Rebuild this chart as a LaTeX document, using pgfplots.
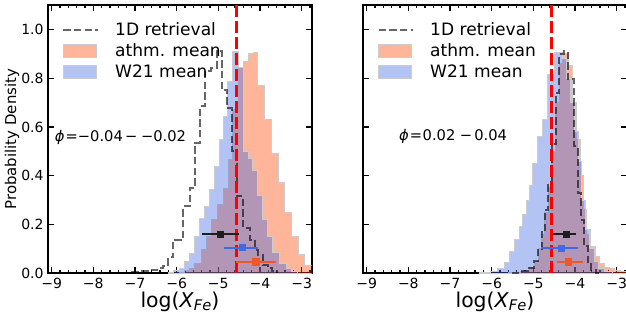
\documentclass[border=0pt]{standalone}
\usepackage{pgfplots}
\pgfplotsset{compat=1.18}
\usepackage{fontspec}
\setmainfont{DejaVu Sans}
\definecolor{myorange}{RGB}{255,69,0}
\definecolor{myblue}{RGB}{65,105,225}
\definecolor{errorange}{RGB}{238,88,40}
\definecolor{errblack}{RGB}{30,30,30}

\tikzset{phinote/.style={anchor=west, inner sep=0pt, font=\fontsize{11}{13}\selectfont}}

\pgfplotsset{
  panel/.style={
    scale only axis, width=197.5pt, height=201.2pt,
    xmin=-9.08, xmax=-2.76, ymin=0, ymax=1.1,
    axis line style={line width=1.6pt},
    every tick/.style={line width=0.9pt, black},
    major tick length=4.5pt, minor tick length=2.5pt,
    tick align=inside,
    xtick={-9,-8,-7,-6,-5,-4,-3},
    xticklabels={−9,−8,−7,−6,−5,−4,−3},
    minor xtick={-8.8,-8.6,-8.4,-8.2,-7.8,-7.6,-7.4,-7.2,-6.8,-6.6,-6.4,-6.2,-5.8,-5.6,-5.4,-5.2,-4.8,-4.6,-4.4,-4.2,-3.8,-3.6,-3.4,-3.2,-2.8},
    ytick={0,0.2,0.4,0.6,0.8,1.0},
    ticklabel style={font=\fontsize{10.5}{12}\selectfont},
    xlabel={log(\textit{X}\raisebox{-0.35ex}{\fontsize{11}{12}\selectfont\textit{Fe}})},
    every axis x label/.style={at={(axis description cs:0.5,-0.105)}, anchor=center, font=\fontsize{15.3}{17}\selectfont},
    legend style={draw=none, fill=none, at={(axis description cs:0.053,0.945)}, anchor=north west,
      font=\fontsize{12.8}{15}\selectfont, row sep=0.6pt, inner sep=0pt,
      /tikz/every odd column/.append style={column sep=10pt}},
    legend cell align=left,
  },
  histfill/.style={const plot, fill opacity=0.4, draw=black!20, line width=0.8pt,
    legend image code/.code={\draw[##1, draw=black!20, line width=0.8pt] (0pt,-4.9pt) rectangle (25pt,4.9pt);}},
  oneD/.style={const plot, black, draw opacity=0.6, line width=1.5pt, dash pattern=on 5.5pt off 2.5pt},
  oneDleg/.style={oneD, legend image code/.code={\draw[##1] (0pt,0pt) -- (26pt,0pt);}},
  redline/.style={red, line width=2.2pt, dash pattern=on 9pt off 3pt, forget plot},
  ebar/.style={forget plot, only marks, mark=square*, mark size=2.3pt, color=#1,
    error bars/.cd, x dir=both, x explicit, error mark=none,
    error bar style={line width=1.4pt, color=#1}},
}

\begin{document}
\begin{tikzpicture}
% ---------------- left panel ----------------
\begin{axis}[panel, at={(36.2pt,38.8pt)}, anchor=south west,
  yticklabels={0.0,0.2,0.4,0.6,0.8,1.0},
  ylabel={Probability Density},
  every axis y label/.style={at={(axis description cs:-0.138,0.5)}, rotate=90, anchor=center, font=\fontsize{11.2}{13}\selectfont}]
\addlegendimage{oneDleg}
\addlegendentry{1D retrieval}
\addplot[histfill, fill=myorange] coordinates {
(-5.92,0.005) (-5.80,0.01) (-5.68,0.02) (-5.56,0.041) (-5.40,0.096) (-5.28,0.15)
(-5.16,0.219) (-5.02,0.281) (-4.88,0.349) (-4.76,0.466) (-4.66,0.67) (-4.52,0.843)
(-4.40,0.87) (-4.28,0.90) (-4.16,0.905) (-4.06,0.77) (-3.88,0.63) (-3.72,0.49)
(-3.56,0.37) (-3.40,0.25) (-3.24,0.15) (-3.08,0.075) (-2.92,0.03) (-2.60,0)} \closedcycle;
\addlegendentry{athm. mean}
\addplot[histfill, fill=myblue] coordinates {
(-6.20,0.004) (-6.08,0.01) (-5.92,0.02) (-5.80,0.048) (-5.68,0.082) (-5.56,0.15)
(-5.44,0.226) (-5.32,0.274) (-5.20,0.342) (-5.08,0.438) (-4.96,0.55) (-4.88,0.644)
(-4.78,0.787) (-4.66,0.911) (-4.52,0.843) (-4.40,0.50) (-4.28,0.47) (-4.17,0.42)
(-4.05,0.32) (-3.93,0.22) (-3.81,0.15) (-3.69,0.085) (-3.53,0.04) (-3.37,0.02)
(-3.25,0.006) (-3.10,0)} \closedcycle;
\addlegendentry{W21 mean}
\addplot[oneD, forget plot] coordinates {
(-7.30,0) (-7.30,0.002) (-7.06,0.005) (-6.82,0.008) (-6.58,0.012) (-6.46,0.02)
(-6.32,0.03) (-6.20,0.065) (-6.08,0.137) (-5.84,0.274) (-5.68,0.349) (-5.56,0.534)
(-5.44,0.685) (-5.32,0.83) (-5.18,0.84) (-5.04,0.911) (-4.92,0.753) (-4.78,0.678)
(-4.68,0.50) (-4.56,0.315) (-4.40,0.185) (-4.24,0.137) (-4.12,0.096) (-4.04,0.075)
(-3.93,0.034) (-3.81,0.02) (-3.70,0.008) (-3.58,0)};
\addplot[redline] coordinates {(-4.57,0) (-4.57,1.1)};
\addplot[ebar=errblack] coordinates {(-4.95,0.16) += (0.44,0) -= (0.44,0)};
\addplot[ebar=myblue] coordinates {(-4.43,0.105) += (0.38,0) -= (0.44,0)};
\addplot[ebar=errorange] coordinates {(-4.10,0.047) += (0.48,0) -= (0.48,0)};
\node[phinote] at (axis cs:-8.93,0.555)
  {\textit{ϕ}\hspace{0.08em}=−0.04\hspace{0.15em}−\hspace{0.25em}−0.02};
\end{axis}
% ---------------- right panel ----------------
\begin{axis}[panel, at={(272.5pt,38.8pt)}, anchor=south west,
  yticklabels={}]
\addlegendimage{oneDleg}
\addlegendentry{1D retrieval}
\addplot[histfill, fill=myorange] coordinates {
(-5.60,0.003) (-5.30,0.008) (-5.10,0.025) (-4.98,0.05) (-4.88,0.10) (-4.80,0.16)
(-4.72,0.25) (-4.64,0.35) (-4.56,0.50) (-4.46,0.70) (-4.38,0.86) (-4.30,0.90)
(-4.16,0.85) (-4.06,0.70) (-3.96,0.55) (-3.88,0.40) (-3.80,0.26) (-3.72,0.16)
(-3.62,0.11) (-3.52,0.07) (-3.42,0.04) (-3.30,0.025) (-3.18,0.02) (-3.06,0.012)
(-2.90,0.006) (-2.60,0)} \closedcycle;
\addlegendentry{athm. mean}
\addplot[histfill, fill=myblue] coordinates {
(-6.30,0.003) (-6.02,0.008) (-5.86,0.02) (-5.70,0.045) (-5.58,0.09) (-5.46,0.14)
(-5.34,0.19) (-5.26,0.24) (-5.16,0.30) (-5.10,0.36) (-5.02,0.45) (-4.90,0.56)
(-4.78,0.63) (-4.66,0.815) (-4.50,0.904) (-4.30,0.88) (-4.20,0.80) (-4.10,0.70)
(-4.00,0.58) (-3.92,0.46) (-3.84,0.30) (-3.74,0.18) (-3.64,0.10) (-3.54,0.05)
(-3.44,0.02) (-3.30,0.008) (-3.10,0)} \closedcycle;
\addlegendentry{W21 mean}
\addplot[oneD, forget plot] coordinates {
(-5.50,0) (-5.50,0.003) (-5.30,0.008) (-5.10,0.02) (-4.98,0.05) (-4.88,0.10)
(-4.80,0.17) (-4.72,0.26) (-4.64,0.36) (-4.56,0.53) (-4.46,0.74) (-4.38,0.90)
(-4.26,0.91) (-4.18,0.795) (-4.02,0.52) (-3.94,0.33) (-3.86,0.22) (-3.78,0.11)
(-3.70,0.04) (-3.62,0.014) (-3.50,0.003) (-3.40,0)};
\addplot[redline] coordinates {(-4.56,0) (-4.56,1.1)};
\addplot[ebar=errblack] coordinates {(-4.22,0.16) += (0.24,0) -= (0.31,0)};
\addplot[ebar=myblue] coordinates {(-4.34,0.103) += (0.42,0) -= (0.48,0)};
\addplot[ebar=errorange] coordinates {(-4.16,0.047) += (0.34,0) -= (0.28,0)};
\node[phinote] at (axis cs:-8.23,0.56)
  {\textit{ϕ}\hspace{0.08em}=\hspace{0.04em}0.02\hspace{0.3em}−\hspace{0.15em}0.04};
\end{axis}
\pgfresetboundingbox
\useasboundingbox (0,0) rectangle (469.5pt,243.75pt);
\end{tikzpicture}
\end{document}
